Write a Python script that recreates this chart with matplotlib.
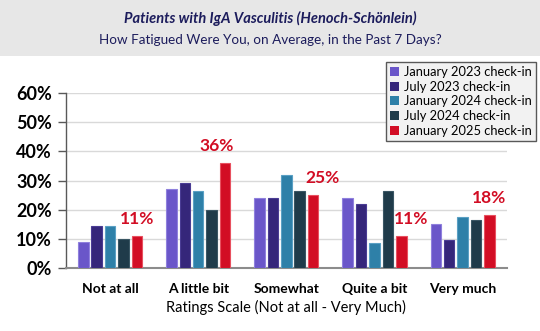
import matplotlib
matplotlib.use('AGG')
import matplotlib.pyplot as plt
from matplotlib.patches import Rectangle
import numpy as np

plt.rcParams['font.family'] = ['Lato', 'DejaVu Sans']

categories = ['Not at all', 'A little bit', 'Somewhat', 'Quite a bit', 'Very much']
series = ['January 2023 check-in', 'July 2023 check-in', 'January 2024 check-in',
          'July 2024 check-in', 'January 2025 check-in']
jan23 = [9, 27, 24, 24, 15]
jul23 = [14.3, 29, 24, 22, 9.5]
jan24 = [14.3, 26.3, 32, 8.5, 17.3]
jul24 = [10, 20, 26.3, 26.3, 16.5]
jan25 = [11, 36, 25, 11, 18]
labels_2025 = ['11%', '36%', '25%', '11%', '18%']

colors = ['#6a56c9', '#35267a', '#2e80a8', '#1f3b4a', '#d20d24']
edges = ['#8f80dd', '#4a3c94', '#5aa0c4', '#3a5664', '#e8505f']
# horizontal nudges of the data labels (points), like the original layout
label_dx = [0, -6, 7, 7, 0]

fig = plt.figure(figsize=(5.4, 3.31), dpi=100)
fig.patches.append(Rectangle((0, 0.831), 1, 0.169, transform=fig.transFigure,
                             facecolor='#e7e7e7', edgecolor='none', zorder=0))
fig.text(0.5, 0.943, 'Patients with IgA Vasculitis (Henoch-Schönlein)',
         ha='center', va='center', fontsize=10.5, fontweight='bold',
         fontstyle='italic', color='#1c1c5c')
fig.text(0.5, 0.879, 'How Fatigued Were You, on Average, in the Past 7 Days?',
         ha='center', va='center', fontsize=9.7, color='#1c1c5c')

ax = fig.add_axes([0.1222, 0.1912, 0.8161, 0.5269])
x = np.arange(len(categories))
slot = 0.152
width = 0.119
data = [jan23, jul23, jan24, jul24, jan25]
bars = []
for i, vals in enumerate(data):
    b = ax.bar(x + (i - 2) * slot, np.array(vals) / 100, width,
               color=colors[i], edgecolor=edges[i], linewidth=0.8,
               label=series[i], zorder=3)
    bars.append(b)

# data labels for the latest check-in
for rect, lab, dx in zip(bars[4], labels_2025, label_dx):
    ax.annotate(lab, xy=(rect.get_x() + rect.get_width() / 2, rect.get_height()),
                xytext=(dx, 6.5), textcoords='offset points', ha='center', va='bottom',
                fontsize=12.5, fontweight='bold', color='#d20d24')

ax.set_xlim(-0.5, 4.5)
ax.set_ylim(0, 0.6)
ax.set_yticks(np.arange(0, 0.61, 0.1))
ax.set_yticklabels(['%d%%' % v for v in range(0, 61, 10)])
ax.set_xticks(x)
ax.set_xticklabels(categories)
for t in ax.get_yticklabels():
    t.set_fontsize(13)
    t.set_fontweight('bold')
for t in ax.get_xticklabels():
    t.set_fontsize(10)
    t.set_fontweight('bold')
ax.tick_params(axis='x', length=0, pad=11)
ax.tick_params(axis='y', length=6, width=1, color='#595959', direction='out', pad=4)
ax.set_xlabel('Ratings Scale (Not at all - Very Much)', fontsize=10.5, labelpad=3.5)
ax.grid(axis='y', color='#d9d9d9', linewidth=1, zorder=0)
ax.set_axisbelow(True)
for s in ['top', 'right']:
    ax.spines[s].set_visible(False)
ax.spines['left'].set_color('#595959')
ax.spines['left'].set_linewidth(1)
ax.spines['bottom'].set_color('#8c8c8c')
ax.spines['bottom'].set_linewidth(1.5)

leg = fig.legend(loc='upper left', bbox_to_anchor=(0.715, 0.813), fontsize=9.3,
                 frameon=True, fancybox=False, framealpha=1, edgecolor='#595959',
                 facecolor='#f2f2f2', handlelength=0.7, handleheight=0.7,
                 handletextpad=0.4, borderpad=0.3, labelspacing=0.22,
                 borderaxespad=0)
leg.get_frame().set_linewidth(1)
for h in leg.legend_handles:
    h.set_edgecolor('none')

fig.savefig('out.png', dpi=100)
